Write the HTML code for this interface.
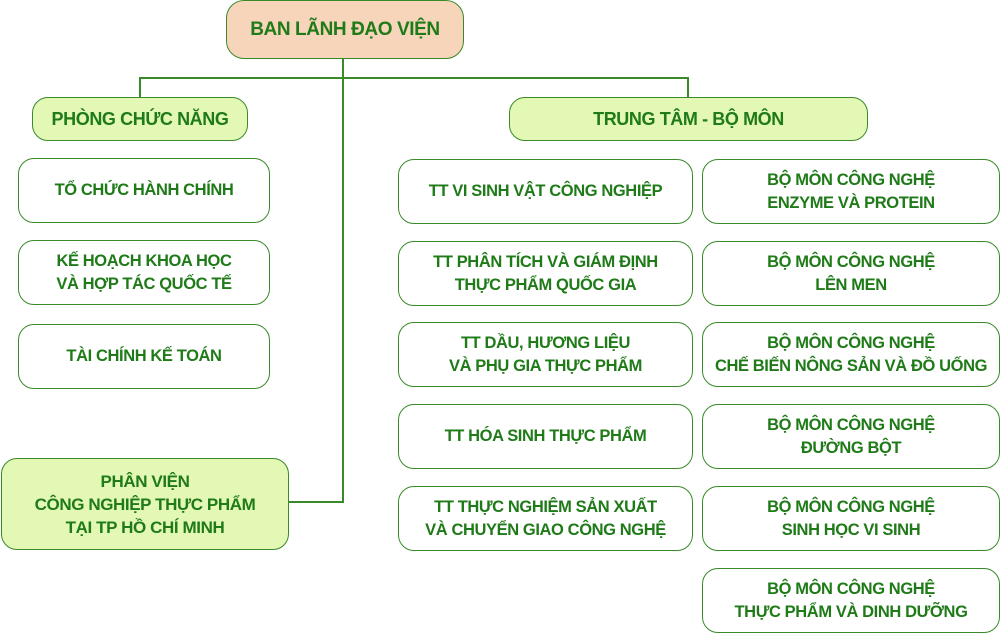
<!DOCTYPE html>
<html><head><meta charset="utf-8"><style>
body{margin:0;width:1000px;height:634px;background:#fff;position:relative;overflow:hidden;font-family:"Liberation Sans",sans-serif;}
.b{position:absolute;box-sizing:border-box;border:1.5px solid #3a8a2a;border-radius:16px;background:#fff;color:#1f7a18;font-weight:bold;font-size:16.5px;letter-spacing:-0.4px;display:flex;align-items:center;justify-content:center;text-align:center;line-height:23px;}
.g{background:#e2f8b4;}
.l{position:absolute;background:#3a8a2a;}
</style></head><body>
<div class="l" style="left:342px;top:58px;width:1.5px;height:445px"></div>
<div class="l" style="left:288px;top:501px;width:55px;height:1.5px"></div>
<div class="l" style="left:139px;top:77px;width:550px;height:1.5px"></div>
<div class="l" style="left:139px;top:77px;width:1.5px;height:20px"></div>
<div class="l" style="left:687px;top:77px;width:1.5px;height:20px"></div>

<div class="b" style="left:226px;top:0;width:238px;height:59px;background:#f6d5ba;font-size:19px;border-radius:18px">BAN LÃNH ĐẠO VIỆN</div>
<div class="b g" style="left:32px;top:97px;width:216px;height:44px;font-size:18px">PHÒNG CHỨC NĂNG</div>
<div class="b g" style="left:509px;top:97px;width:359px;height:44px;font-size:18px">TRUNG TÂM - BỘ MÔN</div>

<div class="b" style="left:18px;top:158px;width:252px;height:65px">TỔ CHỨC HÀNH CHÍNH</div>
<div class="b" style="left:18px;top:240px;width:252px;height:65px">KẾ HOẠCH KHOA HỌC<br>VÀ HỢP TÁC QUỐC TẾ</div>
<div class="b" style="left:18px;top:324px;width:252px;height:65px">TÀI CHÍNH KẾ TOÁN</div>
<div class="b g" style="left:1px;top:458px;width:288px;height:92px;font-size:17px">PHÂN VIỆN<br>CÔNG NGHIỆP THỰC PHẨM<br>TẠI TP HỒ CHÍ MINH</div>

<div class="b" style="left:398px;top:159px;width:295px;height:65px">TT VI SINH VẬT CÔNG NGHIỆP</div>
<div class="b" style="left:398px;top:241px;width:295px;height:65px">TT PHÂN TÍCH VÀ GIÁM ĐỊNH<br>THỰC PHẨM QUỐC GIA</div>
<div class="b" style="left:398px;top:322px;width:295px;height:65px">TT DẦU, HƯƠNG LIỆU<br>VÀ PHỤ GIA THỰC PHẨM</div>
<div class="b" style="left:398px;top:404px;width:295px;height:65px">TT HÓA SINH THỰC PHẨM</div>
<div class="b" style="left:398px;top:486px;width:295px;height:65px">TT THỰC NGHIỆM SẢN XUẤT<br>VÀ CHUYỂN GIAO CÔNG NGHỆ</div>

<div class="b" style="left:702px;top:159px;width:298px;height:65px">BỘ MÔN CÔNG NGHỆ<br>ENZYME VÀ PROTEIN</div>
<div class="b" style="left:702px;top:241px;width:298px;height:65px">BỘ MÔN CÔNG NGHỆ<br>LÊN MEN</div>
<div class="b" style="left:702px;top:322px;width:298px;height:65px">BỘ MÔN CÔNG NGHỆ<br>CHẾ BIẾN NÔNG SẢN VÀ ĐỒ UỐNG</div>
<div class="b" style="left:702px;top:404px;width:298px;height:65px">BỘ MÔN CÔNG NGHỆ<br>ĐƯỜNG BỘT</div>
<div class="b" style="left:702px;top:486px;width:298px;height:65px">BỘ MÔN CÔNG NGHỆ<br>SINH HỌC VI SINH</div>
<div class="b" style="left:702px;top:568px;width:298px;height:65px">BỘ MÔN CÔNG NGHỆ<br>THỰC PHẨM VÀ DINH DƯỠNG</div>
</body></html>
